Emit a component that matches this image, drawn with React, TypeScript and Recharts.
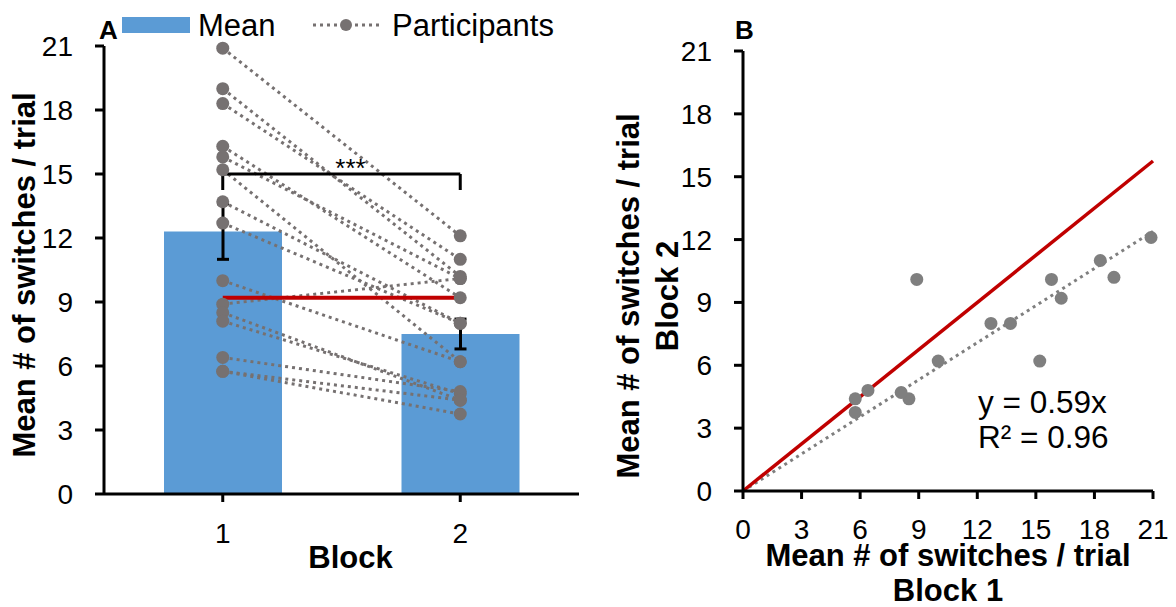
import React from "react";
import {
  ComposedChart,
  Bar,
  Line,
  XAxis,
  YAxis,
  ErrorBar,
  ReferenceLine,
  Scatter,
} from "recharts";

// Panel A: block means and individual participants
const blocks = ["1", "2"];
const meanSwitches = [12.3, 7.5];
const semSwitches = [1.3, 0.7];
const reductionTarget = 9.2; // 75% of block 1 mean
const block1 = [20.9, 19.0, 18.3, 16.3, 15.8, 15.2, 13.7, 12.7, 10.0, 8.9, 8.5, 8.1, 6.4, 5.75, 5.75];
const block2 = [12.1, 10.2, 11.0, 9.2, 10.1, 6.2, 8.0, 8.0, 6.2, 10.1, 4.4, 4.7, 4.8, 4.4, 3.75];
const bracketTop = 15;
const bracketLeg = 14.25;
const sigText = "***";
const axisTicks = [0, 3, 6, 9, 12, 15, 18, 21];

// Panel B: fit lines
const axisMax = 21;
const fitSlope = 0.59;
const fitR2 = 0.96;
const refSlope = 0.75;

const FONT = "'Liberation Sans', Arial, sans-serif";
const BLUE = "#5b9bd5";
const GREY_A = "#767171";
const GREY_B = "#7f7f7f";
const RED = "#c00000";

const blockRows = [block1, block2];
const barData = blocks.map((b, i) => {
  const row: any = { block: b, mean: meanSwitches[i], sem: semSwitches[i], target: reductionTarget };
  blockRows[i].forEach((v, k) => {
    row[`p${k}`] = v;
  });
  return row;
});
const scatterData = block1.map((x, i) => ({ x, y: block2[i] }));

const tickStyle = { fill: "#000", fontSize: 28, fontFamily: FONT };
const axisStroke = { stroke: "#000", strokeWidth: 3 };
const titleStyle: React.CSSProperties = { fontSize: 31, fontWeight: 700, fontFamily: FONT, fill: "#000" };

const yTitleA = (props: any) => {
  const vb = props.viewBox;
  const cx = vb.x + 35;
  const cy = vb.y + vb.height / 2 + 5;
  return (
    <text x={cx} y={cy} transform={`rotate(-90 ${cx} ${cy})`} textAnchor="middle" style={titleStyle}>
      Mean # of switches / trial
    </text>
  );
};

const xTitleA = (props: any) => {
  const vb = props.viewBox;
  return (
    <text x={vb.x + vb.width / 2 + 9} y={vb.y + 74} textAnchor="middle" style={titleStyle}>
      Block
    </text>
  );
};

const sigLabel = (props: any) => {
  const vb = props.viewBox;
  return (
    <text x={vb.x + vb.width / 2 + 9} y={vb.y + 3} textAnchor="middle" fontSize={26} fontFamily={FONT} fill="#000">
      {sigText}
    </text>
  );
};

const yTitleB = (props: any) => {
  const vb = props.viewBox;
  const cx = vb.x + 39;
  const cy = vb.y + vb.height / 2 + 25;
  return (
    <text x={cx} y={cy} transform={`rotate(-90 ${cx} ${cy})`} textAnchor="middle" style={titleStyle}>
      <tspan x={cx} dy={0}>Mean # of switches / trial</tspan>
      <tspan x={cx} dy={38.5}>Block 2</tspan>
    </text>
  );
};

const xTitleB = (props: any) => {
  const vb = props.viewBox;
  const cx = vb.x + vb.width / 2;
  return (
    <text x={cx} y={vb.y + 75} textAnchor="middle" style={titleStyle}>
      <tspan x={cx} dy={0}>Mean # of switches / trial</tspan>
      <tspan x={cx} dy={35}>Block 1</tspan>
    </text>
  );
};

const scatterDot = (p: any) => <circle cx={p.cx} cy={p.cy} r={6.5} fill={GREY_B} />;

const PanelA = () => (
  <ComposedChart width={600} height={607} data={barData} margin={{ top: 46, right: 21, left: 0, bottom: 0 }}>
    <XAxis
      dataKey="block"
      height={113}
      tick={tickStyle}
      tickLine={axisStroke}
      axisLine={axisStroke}
      tickSize={8}
      tickMargin={21}
      label={xTitleA}
    />
    <YAxis
      type="number"
      domain={[0, 21]}
      ticks={axisTicks}
      width={104}
      tick={tickStyle}
      tickLine={axisStroke}
      axisLine={axisStroke}
      tickSize={9}
      tickMargin={22}
      interval={0}
      label={yTitleA}
    />
    <Bar dataKey="mean" fill={BLUE} barSize={118} isAnimationActive={false}>
      <ErrorBar dataKey="sem" width={6} stroke="#000" strokeWidth={3} />
    </Bar>
    {block1.map((_, k) => (
      <Line
        key={k}
        dataKey={`p${k}`}
        stroke={GREY_A}
        strokeWidth={3}
        strokeDasharray="3 4"
        dot={{ r: 6.5, fill: GREY_A, stroke: "none" }}
        activeDot={false}
        isAnimationActive={false}
      />
    ))}
    <Line dataKey="target" stroke={RED} strokeWidth={4} dot={false} activeDot={false} isAnimationActive={false} />
    <ReferenceLine
      segment={[{ x: blocks[0], y: bracketTop }, { x: blocks[1], y: bracketTop }]}
      stroke="#000"
      strokeWidth={3}
      label={sigLabel}
    />
    <ReferenceLine segment={[{ x: blocks[0], y: bracketTop }, { x: blocks[0], y: bracketLeg }]} stroke="#000" strokeWidth={3} />
    <ReferenceLine segment={[{ x: blocks[1], y: bracketTop }, { x: blocks[1], y: bracketLeg }]} stroke="#000" strokeWidth={3} />
  </ComposedChart>
);

const PanelB = () => (
  <ComposedChart width={576} height={607} data={scatterData} margin={{ top: 51, right: 23, left: 0, bottom: 0 }}>
    <XAxis
      type="number"
      dataKey="x"
      domain={[0, axisMax]}
      ticks={axisTicks}
      interval={0}
      height={116}
      tick={tickStyle}
      tickLine={axisStroke}
      axisLine={axisStroke}
      tickSize={8}
      tickMargin={20}
      label={xTitleB}
    />
    <YAxis
      type="number"
      dataKey="y"
      domain={[0, axisMax]}
      ticks={axisTicks}
      interval={0}
      width={143}
      tick={tickStyle}
      tickLine={axisStroke}
      axisLine={axisStroke}
      tickSize={9}
      tickMargin={22}
      label={yTitleB}
    />
    <ReferenceLine
      segment={[{ x: 0, y: 0 }, { x: axisMax, y: axisMax * fitSlope }]}
      stroke={GREY_B}
      strokeWidth={3}
      strokeDasharray="3 4"
    />
    <ReferenceLine segment={[{ x: 0, y: 0 }, { x: axisMax, y: axisMax * refSlope }]} stroke={RED} strokeWidth={3.5} />
    <Scatter data={scatterData} dataKey="y" shape={scatterDot} isAnimationActive={false} />
  </ComposedChart>
);

export default function App() {
  return (
    <div style={{ position: "absolute", left: 0, top: 0, width: 1176, height: 607, background: "#fff", fontFamily: FONT }}>
      <div style={{ position: "absolute", left: 0, top: 0 }}>
        <PanelA />
      </div>
      <div style={{ position: "absolute", left: 600, top: 0 }}>
        <PanelB />
      </div>
      <svg width={1176} height={607} style={{ position: "absolute", left: 0, top: 0, pointerEvents: "none" }}>
        <text x={99} y={39} fontSize={26} fontWeight={700} fontFamily={FONT}>A</text>
        <text x={735} y={39} fontSize={26} fontWeight={700} fontFamily={FONT}>B</text>
        <rect x={122} y={17} width={68} height={16} fill={BLUE} />
        <text x={198} y={36} fontSize={31} fontFamily={FONT}>Mean</text>
        <line x1={313} y1={25} x2={383} y2={25} stroke={GREY_A} strokeWidth={3} strokeDasharray="3 4" />
        <circle cx={346} cy={25} r={6} fill={GREY_A} />
        <text x={392} y={36} fontSize={31} fontFamily={FONT}>Participants</text>
        <text x={978} y={413} fontSize={31.5} fontFamily={FONT}>{`y = ${fitSlope}x`}</text>
        <text x={978} y={448} fontSize={31.5} fontFamily={FONT}>{`R² = ${fitR2}`}</text>
      </svg>
    </div>
  );
}
